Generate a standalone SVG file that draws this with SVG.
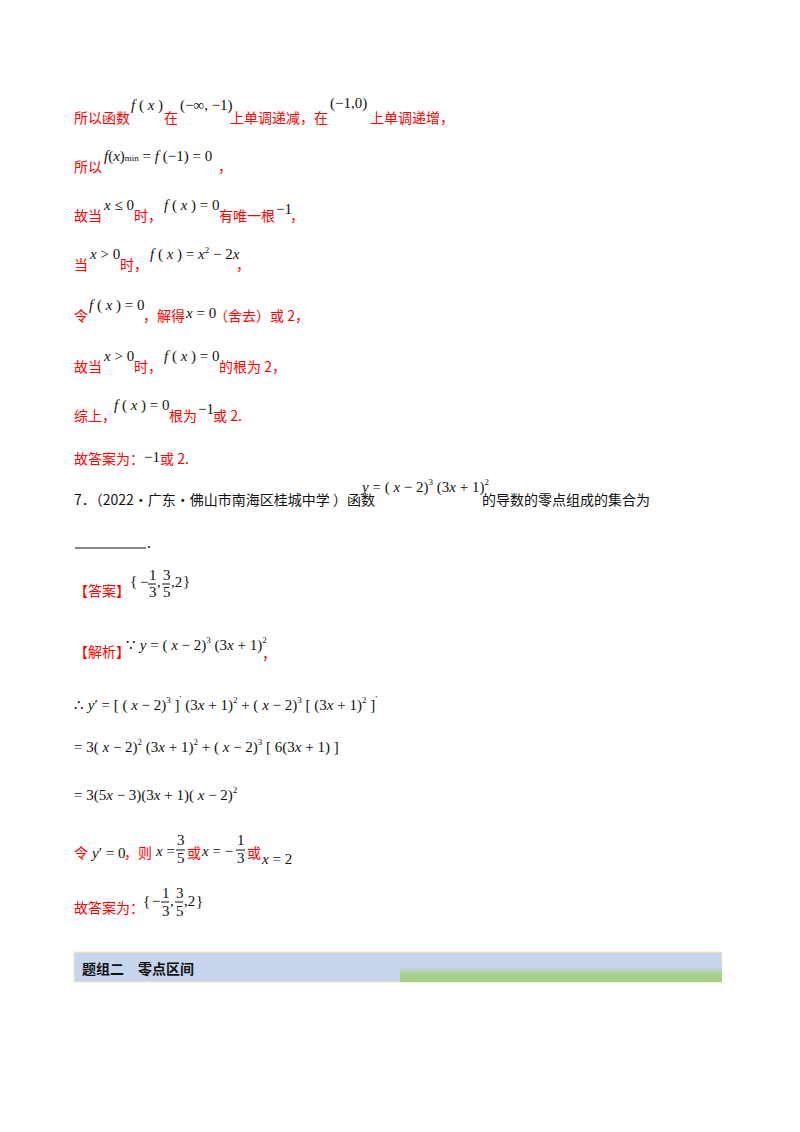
<svg xmlns="http://www.w3.org/2000/svg" width="800" height="1132" viewBox="0 0 800 1132">
<style>
.r{fill:#ff0000;font-family:"Noto Sans CJK SC","Liberation Sans",sans-serif;font-size:14px}
.k{fill:#111;font-family:"Noto Sans CJK SC","Liberation Sans",sans-serif;font-size:14px}
.m{fill:#111;font-family:"Liberation Serif",serif;font-size:15px}
.i{font-style:italic}
.s{font-size:9px}
</style>
<defs>
<linearGradient id="g" x1="0" y1="0" x2="0" y2="1"><stop offset="0" stop-color="#c6d4ec"/><stop offset="0.5" stop-color="#a8d08d"/><stop offset="1" stop-color="#a8d08d"/></linearGradient>
</defs>
<rect width="800" height="1132" fill="#fff"/>
<g id="lines">
<text class="r" x="74" y="123">所以函数</text>
<text class="m" x="131" y="110"><tspan class="i">f</tspan> ( <tspan class="i">x</tspan> )</text>
<text class="r" x="164" y="123">在</text>
<text class="m" x="180" y="110">(−∞, −1)</text>
<text class="r" x="230" y="123">上单调递减，在</text>
<text class="m" x="330" y="108">(−1,0)</text>
<text class="r" x="370" y="123">上单调递增，</text>

<text class="r" x="74" y="172">所以</text>
<text class="m" x="104" y="161"><tspan class="i">f</tspan>(<tspan class="i">x</tspan>)<tspan class="s">min</tspan> = <tspan class="i">f</tspan> (−1) = 0</text>
<text class="r" x="218" y="172">，</text>

<text class="r" x="74" y="221">故当</text>
<text class="m" x="104" y="210"><tspan class="i">x</tspan> ≤ 0</text>
<text class="r" x="134" y="221">时，</text>
<text class="m" x="164" y="210"><tspan class="i">f</tspan> ( <tspan class="i">x</tspan> ) = 0</text>
<text class="r" x="219" y="221">有唯一根</text>
<text class="m" x="276" y="214">−1</text>
<text class="r" x="290" y="221">，</text>

<text class="r" x="74" y="270">当</text>
<text class="m" x="90" y="259"><tspan class="i">x</tspan> &gt; 0</text>
<text class="r" x="120" y="270">时，</text>
<text class="m" x="150" y="259"><tspan class="i">f</tspan> ( <tspan class="i">x</tspan> ) = <tspan class="i">x</tspan><tspan class="s" dy="-6">2</tspan><tspan dy="6"> − 2</tspan><tspan class="i">x</tspan></text>
<text class="r" x="236" y="270">，</text>

<text class="r" x="74" y="321">令</text>
<text class="m" x="89" y="310"><tspan class="i">f</tspan> ( <tspan class="i">x</tspan> ) = 0</text>
<text class="r" x="143" y="321">，解得</text>
<text class="m" x="186" y="318"><tspan class="i">x</tspan> = 0</text>
<text class="r" x="214" y="321">（舍去）或 2，</text>

<text class="r" x="74" y="372">故当</text>
<text class="m" x="104" y="361"><tspan class="i">x</tspan> &gt; 0</text>
<text class="r" x="134" y="372">时，</text>
<text class="m" x="164" y="361"><tspan class="i">f</tspan> ( <tspan class="i">x</tspan> ) = 0</text>
<text class="r" x="219" y="372">的根为 2，</text>

<text class="r" x="74" y="421">综上，</text>
<text class="m" x="114" y="410"><tspan class="i">f</tspan> ( <tspan class="i">x</tspan> ) = 0</text>
<text class="r" x="169" y="421">根为</text>
<text class="m" x="198" y="414">−1</text>
<text class="r" x="213" y="421">或 2.</text>

<text class="r" x="74" y="464">故答案为：</text>
<text class="m" x="144" y="462">−1</text>
<text class="r" x="160" y="464">或 2.</text>

<text class="k" x="74" y="505">7．（2022·广东·佛山市南海区桂城中学 ）函数</text>
<text class="m" x="362" y="492"><tspan class="i">y</tspan> = ( <tspan class="i">x</tspan> − 2)<tspan class="s" dy="-7">3</tspan><tspan dy="7"> (3</tspan><tspan class="i">x</tspan> + 1)<tspan class="s" dy="-7">2</tspan></text>
<text class="k" x="482" y="505">的导数的零点组成的集合为</text>
<line x1="75" y1="548" x2="146" y2="548" stroke="#111" stroke-width="1"/>
<text class="k" x="147" y="548">.</text>

<text class="r" x="74" y="596">【答案】</text>
<text class="m" x="130" y="586" font-size="20">{</text>
<text class="m" x="140" y="587">−</text>
<text class="m" x="149" y="580">1</text><line x1="148" y1="584" x2="156" y2="584" stroke="#111"/><text class="m" x="149" y="597">3</text>
<text class="m" x="157" y="587">,</text>
<text class="m" x="163" y="580">3</text><line x1="162" y1="584" x2="170" y2="584" stroke="#111"/><text class="m" x="163" y="597">5</text>
<text class="m" x="171" y="587">,2</text>
<text class="m" x="183" y="586" font-size="20">}</text>

<text class="r" x="74" y="657">【解析】</text>
<text class="m" x="126" y="650">∵ <tspan class="i">y</tspan> = ( <tspan class="i">x</tspan> − 2)<tspan class="s" dy="-7">3</tspan><tspan dy="7"> (3</tspan><tspan class="i">x</tspan> + 1)<tspan class="s" dy="-7">2</tspan></text>
<text class="r" x="262" y="659">，</text>

<text class="m" x="74" y="710">∴ <tspan class="i">y</tspan>′ = [ ( <tspan class="i">x</tspan> − 2)<tspan class="s" dy="-7">3</tspan><tspan dy="7"> ]</tspan><tspan class="s" dy="-8">′</tspan><tspan dy="8"> (3</tspan><tspan class="i">x</tspan> + 1)<tspan class="s" dy="-7">2</tspan><tspan dy="7"> + ( </tspan><tspan class="i">x</tspan> − 2)<tspan class="s" dy="-7">3</tspan><tspan dy="7"> [ (3</tspan><tspan class="i">x</tspan> + 1)<tspan class="s" dy="-7">2</tspan><tspan dy="7"> ]</tspan><tspan class="s" dy="-8">′</tspan></text>
<text class="m" x="74" y="752">= 3( <tspan class="i">x</tspan> − 2)<tspan class="s" dy="-7">2</tspan><tspan dy="7"> (3</tspan><tspan class="i">x</tspan> + 1)<tspan class="s" dy="-7">2</tspan><tspan dy="7"> + ( </tspan><tspan class="i">x</tspan> − 2)<tspan class="s" dy="-7">3</tspan><tspan dy="7"> [ 6(3</tspan><tspan class="i">x</tspan> + 1) ]</text>
<text class="m" x="74" y="800">= 3(5<tspan class="i">x</tspan> − 3)(3<tspan class="i">x</tspan> + 1)( <tspan class="i">x</tspan> − 2)<tspan class="s" dy="-7">2</tspan></text>

<text class="r" x="74" y="858">令</text>
<text class="m" x="92" y="858"><tspan class="i">y</tspan>′ = 0</text>
<text class="r" x="124" y="858">，则</text>
<text class="m" x="156" y="856"><tspan class="i">x</tspan> =</text>
<text class="m" x="177" y="845">3</text><line x1="176" y1="850" x2="185" y2="850" stroke="#111"/><text class="m" x="177" y="863">5</text>
<text class="r" x="187" y="858">或</text>
<text class="m" x="202" y="856"><tspan class="i">x</tspan> = −</text>
<text class="m" x="237" y="845">1</text><line x1="236" y1="850" x2="245" y2="850" stroke="#111"/><text class="m" x="237" y="863">3</text>
<text class="r" x="247" y="858">或</text>
<text class="m" x="262" y="864" font-size="11"><tspan class="i">x</tspan> = 2</text>

<text class="r" x="74" y="913">故答案为：</text>
<text class="m" x="143" y="906" font-size="20">{</text>
<text class="m" x="152" y="906">−</text>
<text class="m" x="162" y="898">1</text><line x1="161" y1="902" x2="169" y2="902" stroke="#111"/><text class="m" x="162" y="916">3</text>
<text class="m" x="170" y="906">,</text>
<text class="m" x="176" y="898">3</text><line x1="175" y1="902" x2="183" y2="902" stroke="#111"/><text class="m" x="176" y="916">5</text>
<text class="m" x="184" y="906">,2</text>
<text class="m" x="196" y="906" font-size="20">}</text>
</g>
<g id="banner">
<rect x="74" y="952" width="648" height="30" fill="#c6d4ec" stroke="#fbe9b5" stroke-width="1"/>
<rect x="400" y="967" width="322" height="15" fill="url(#g)"/>
<text x="82" y="974" font-family="'Noto Sans CJK SC',sans-serif" font-size="14" font-weight="bold" fill="#111">题组二　零点区间</text>
</g>
</svg>
